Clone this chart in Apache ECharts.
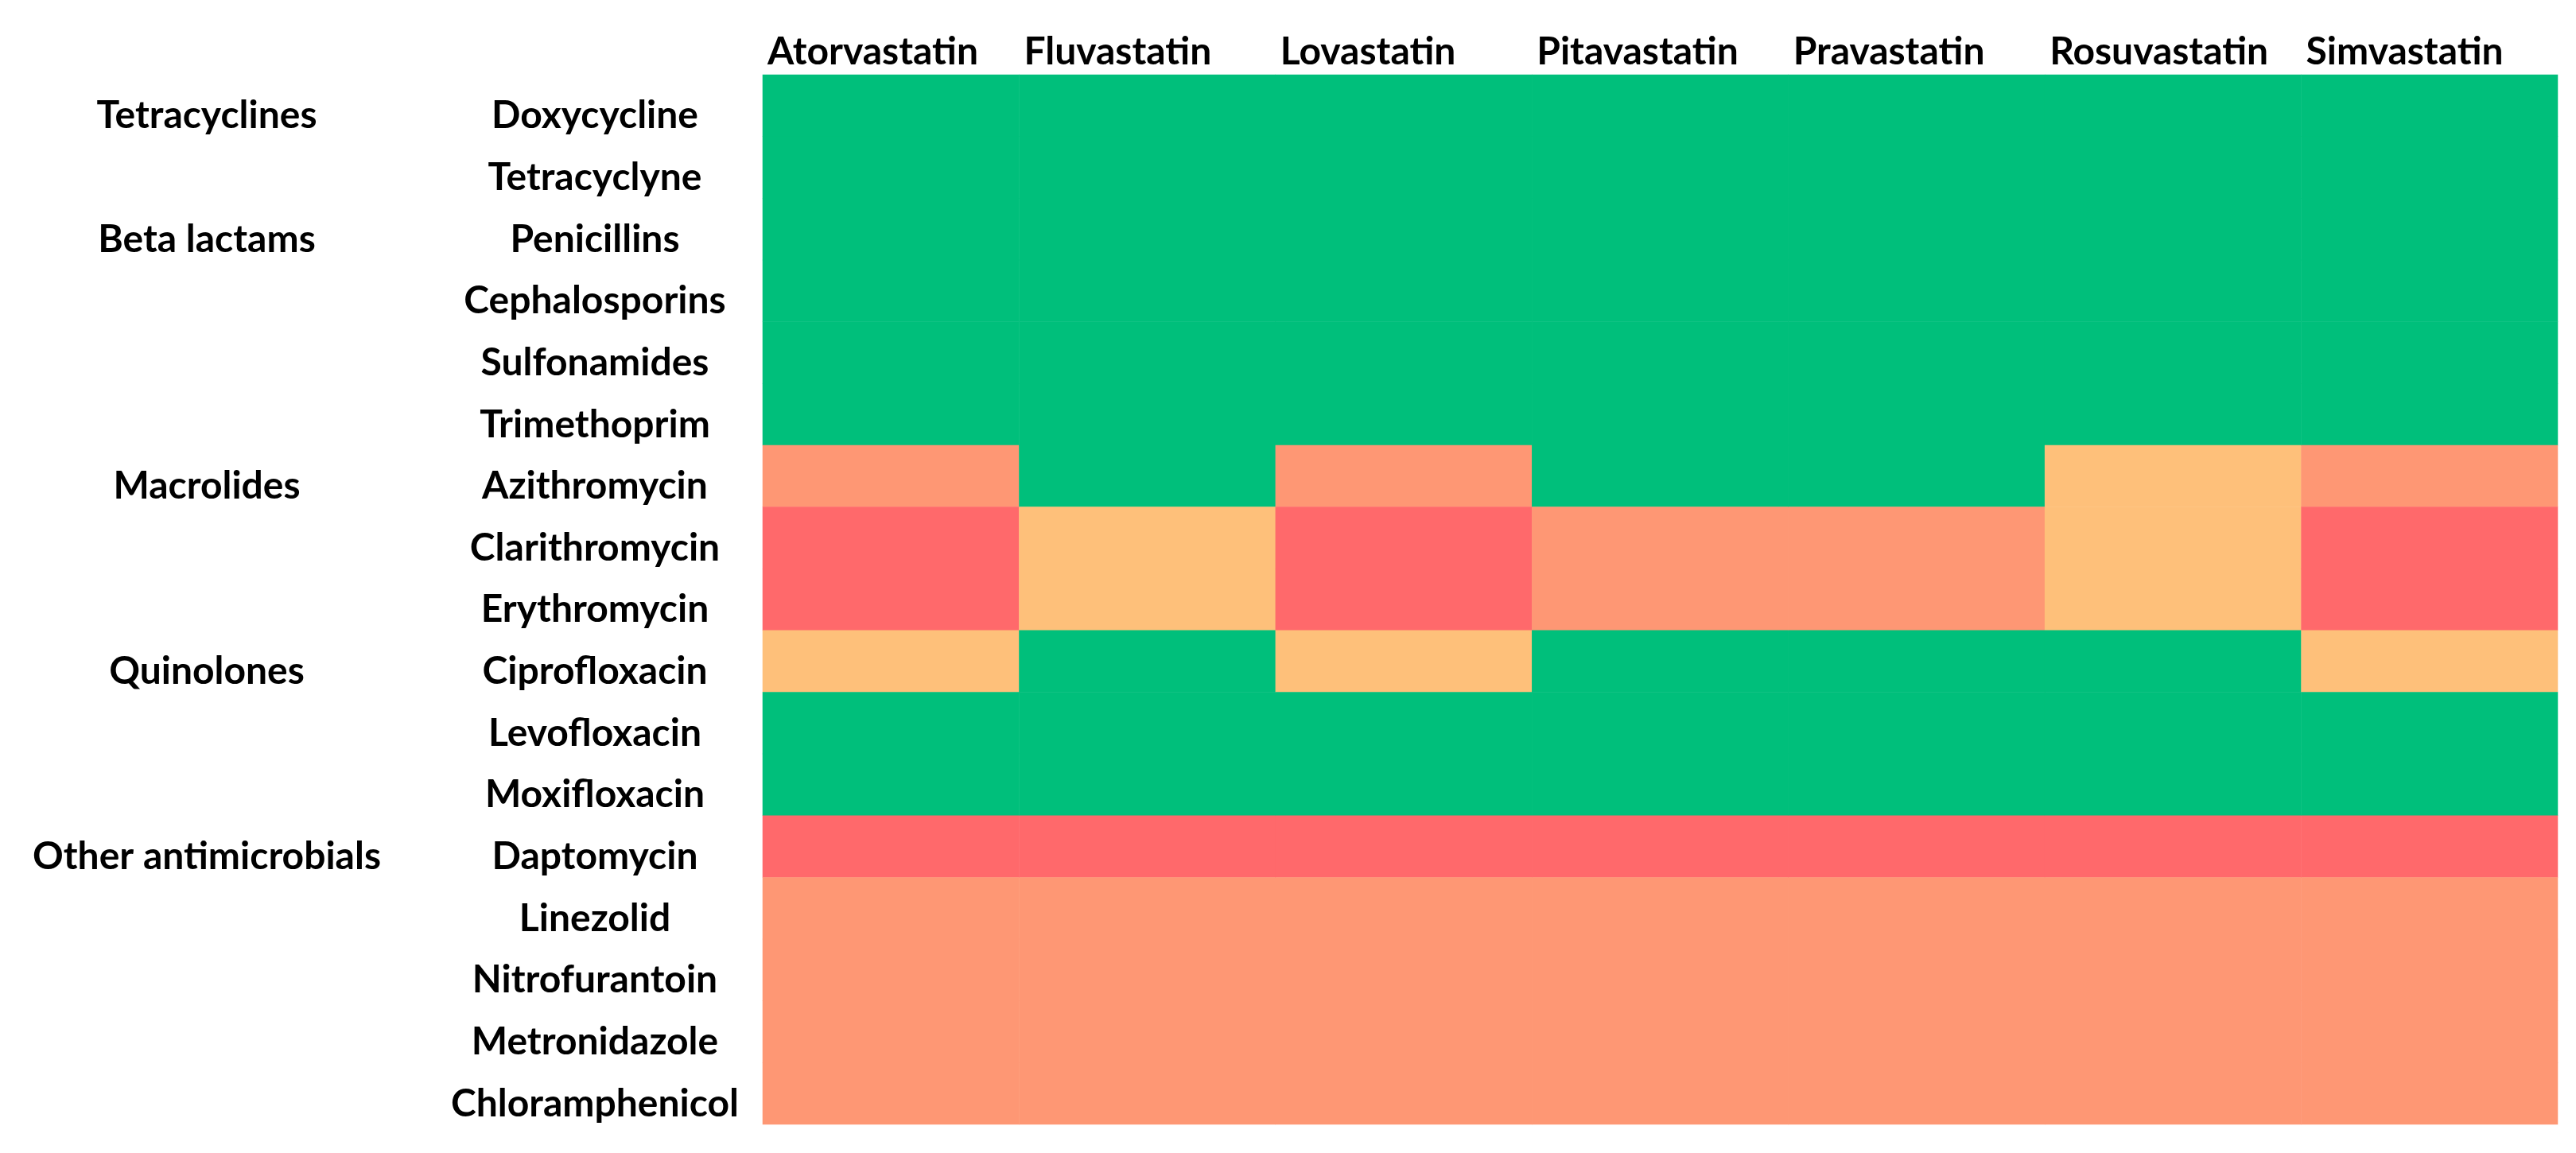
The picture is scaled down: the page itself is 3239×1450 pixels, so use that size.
<!DOCTYPE html>
<html>
<head>
<meta charset="utf-8">
<script src="https://cdn.jsdelivr.net/npm/echarts@6/dist/echarts.min.js"></script>
<style>
  html, body { margin: 0; padding: 0; background: #ffffff; }
  #chart { width: 3239px; height: 1450px; }
</style>
</head>
<body>
<div id="chart"></div>
<script>
// ---- Data ----
const statins = ['Atorvastatin', 'Fluvastatin', 'Lovastatin', 'Pitavastatin', 'Pravastatin', 'Rosuvastatin', 'Simvastatin'];

const antimicrobials = ['Doxycycline', 'Tetracyclyne', 'Penicillins', 'Cephalosporins', 'Sulfonamides', 'Trimethoprim',
  'Azithromycin', 'Clarithromycin', 'Erythromycin', 'Ciprofloxacin', 'Levofloxacin', 'Moxifloxacin',
  'Daptomycin', 'Linezolid', 'Nitrofurantoin', 'Metronidazole', 'Chloramphenicol'];

const classLabels = ['Tetracyclines', '', 'Beta lactams', '', '', '',
  'Macrolides', '', '', 'Quinolones', '', '',
  'Other antimicrobials', '', '', '', ''];

// interaction level: 0 = none, 1 = minor, 2 = moderate, 3 = major (one value per antimicrobial)
const atorvastatin = [0, 0, 0, 0, 0, 0, 2, 3, 3, 1, 0, 0, 3, 2, 2, 2, 2];
const fluvastatin  = [0, 0, 0, 0, 0, 0, 0, 1, 1, 0, 0, 0, 3, 2, 2, 2, 2];
const lovastatin   = [0, 0, 0, 0, 0, 0, 2, 3, 3, 1, 0, 0, 3, 2, 2, 2, 2];
const pitavastatin = [0, 0, 0, 0, 0, 0, 0, 2, 2, 0, 0, 0, 3, 2, 2, 2, 2];
const pravastatin  = [0, 0, 0, 0, 0, 0, 0, 2, 2, 0, 0, 0, 3, 2, 2, 2, 2];
const rosuvastatin = [0, 0, 0, 0, 0, 0, 1, 1, 1, 0, 0, 0, 3, 2, 2, 2, 2];
const simvastatin  = [0, 0, 0, 0, 0, 0, 2, 3, 3, 1, 0, 0, 3, 2, 2, 2, 2];

const levelColors = ['#00BF7B', '#FEC07A', '#FE9774', '#FF696B'];

// ---- Build heatmap cells ----
const columnsData = [atorvastatin, fluvastatin, lovastatin, pitavastatin, pravastatin, rosuvastatin, simvastatin];
const cells = [];
columnsData.forEach((col, xi) => {
  col.forEach((v, yi) => cells.push([xi, yi, v]));
});

const labelFont = { fontFamily: 'Lato', fontWeight: 'bold', fontSize: 48, color: '#000000' };
const rowRich = { l: Object.assign({ padding: [26, 0, 0, 0] }, labelFont) };

const chart = echarts.init(document.getElementById('chart'), null, { renderer: 'canvas' });
chart.setOption({
  animation: false,
  backgroundColor: '#ffffff',
  grid: { left: 959, right: 23, top: 94, bottom: 36, containLabel: false },
  xAxis: [
    {
      type: 'category',
      data: statins,
      position: 'top',
      axisLine: { show: false },
      axisTick: { show: false },
      axisLabel: { show: false },
      splitLine: { show: false }
    },
    {
      type: 'value',
      position: 'top',
      min: 0,
      max: statins.length,
      interval: 1,
      axisLine: { show: false },
      axisTick: { show: false },
      splitLine: { show: false },
      axisLabel: Object.assign({
        margin: 4,
        align: 'left',
        verticalAlign: 'bottom',
        formatter: (v) => (statins[v] !== undefined ? '{h|' + statins[v] + '}' : ''),
        rich: { h: Object.assign({ padding: [0, 0, 0, 6] }, labelFont) }
      }, labelFont)
    }
  ],
  yAxis: [
    {
      type: 'category',
      data: antimicrobials,
      inverse: true,
      position: 'left',
      axisLine: { show: false },
      axisTick: { show: false },
      splitLine: { show: false },
      axisLabel: Object.assign({
        interval: 0,
        margin: 211,
        align: 'center',
        verticalAlign: 'middle',
        formatter: (v) => '{l|' + v + '}',
        rich: rowRich
      }, labelFont)
    },
    {
      type: 'category',
      data: antimicrobials,
      inverse: true,
      position: 'left',
      axisLine: { show: false },
      axisTick: { show: false },
      splitLine: { show: false },
      axisLabel: Object.assign({
        interval: 0,
        margin: 699,
        align: 'center',
        verticalAlign: 'middle',
        formatter: (v, i) => (classLabels[i] ? '{l|' + classLabels[i] + '}' : ''),
        rich: rowRich
      }, labelFont)
    }
  ],
  visualMap: {
    type: 'piecewise',
    show: false,
    dimension: 2,
    seriesIndex: 0,
    pieces: levelColors.map((c, i) => ({ value: i, color: c }))
  },
  series: [{
    type: 'heatmap',
    xAxisIndex: 0,
    yAxisIndex: 0,
    data: cells,
    itemStyle: { borderWidth: 0 },
    emphasis: { disabled: true }
  }]
});
</script>
</body>
</html>
